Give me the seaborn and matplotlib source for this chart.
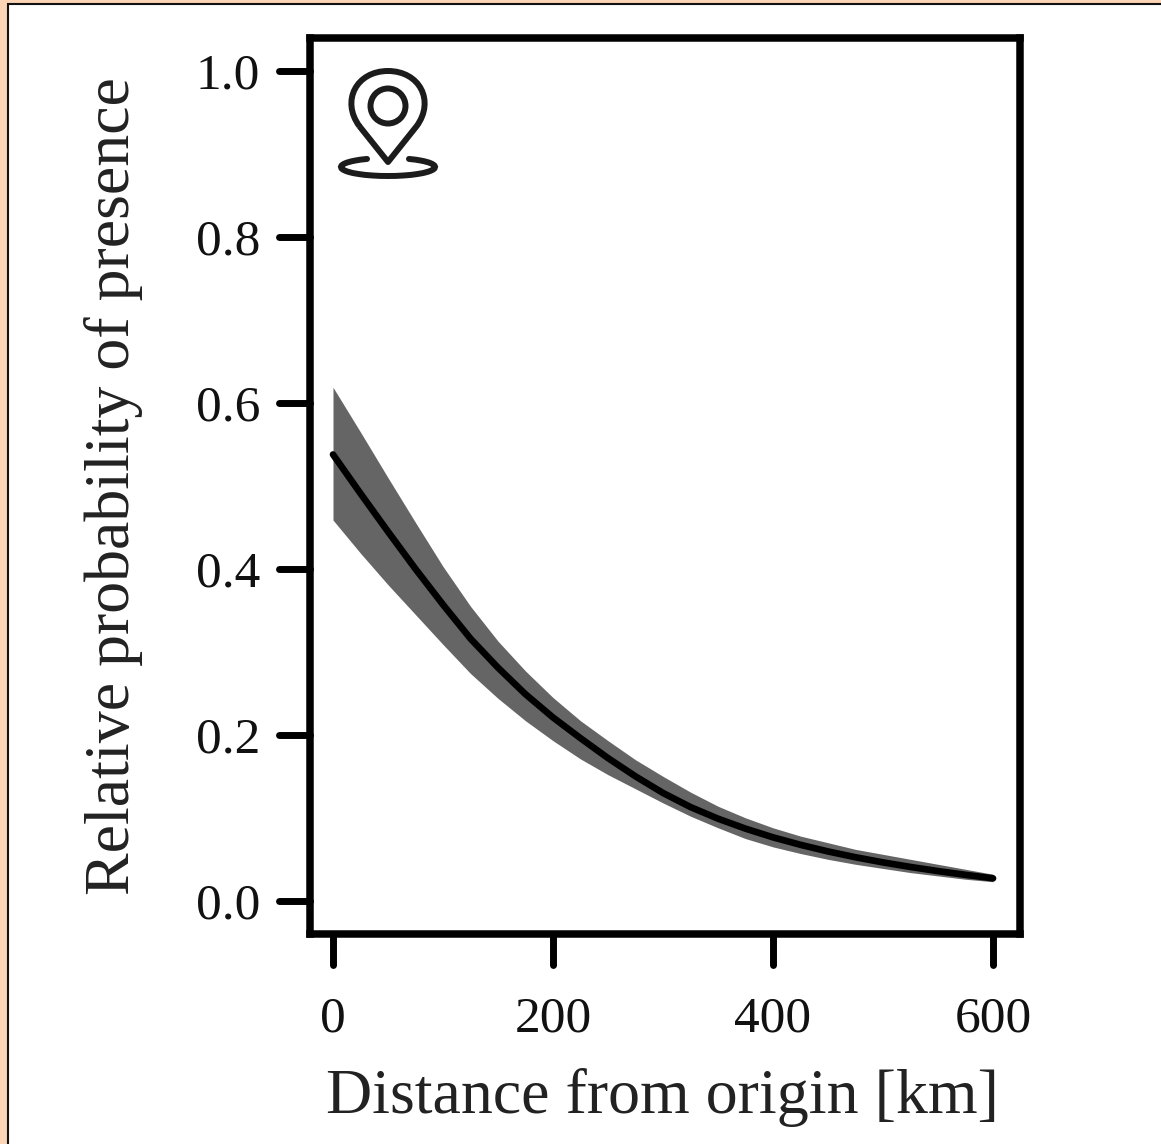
import numpy as np
import pandas as pd
import matplotlib
matplotlib.use('Agg')
import matplotlib.pyplot as plt
import seaborn as sns
from matplotlib.markers import MarkerStyle
from matplotlib.patches import Rectangle, Circle, Arc, PathPatch
from matplotlib.path import Path

# values
distance = [0, 25, 50, 75, 100, 125, 150, 175, 200, 225, 250, 275, 300,
            325, 350, 375, 400, 425, 450, 475, 500, 525, 550, 575, 600]
prob_mean = [.538, .491, .445, .400, .357, .316, .281, .249, .221, .196, .172, .150, .130,
             .113, .099, .087, .0765, .0675, .0595, .0525, .0463, .0408, .0358, .0313, .0271]
prob_upper = [.619, .565, .510, .456, .403, .355, .313, .277, .245, .217, .193, .170, .150,
              .131, .114, .100, .088, .078, .070, .062, .056, .050, .044, .038, .032]
prob_lower = [.459, .419, .381, .345, .309, .274, .244, .217, .193, .171, .152, .135, .118,
              .102, .088, .075, .065, .057, .050, .044, .039, .034, .030, .026, .023]
x_ticks = [0, 200, 400, 600]
y_ticks = [0.0, 0.2, 0.4, 0.6, 0.8, 1.0]

W, H = 1161, 1144
sns.set_theme(style='white')
plt.rcParams['font.family'] = ['Liberation Serif', 'DejaVu Serif']

df = pd.DataFrame({'distance': distance, 'mean': prob_mean})

fig = plt.figure(figsize=(W / 100, H / 100), dpi=100, facecolor='white')

# page frame: peach strip with a thin black rule, top and left only
fig.add_artist(Rectangle((0, 0), 1, 1, transform=fig.transFigure, color='#fbd5b5', zorder=-3))
fig.add_artist(Rectangle((8 / W, -0.1), 1.2, 1.1 - 4 / H, transform=fig.transFigure, facecolor='white',
                         edgecolor='#111111', linewidth=1.5, zorder=-2))

left, right, top, bottom = 310, 1020, 38, 934
ax = fig.add_axes([left / W, 1 - bottom / H, (right - left) / W, (bottom - top) / H])
ax.set_facecolor('white')

ax.fill_between(distance, prob_lower, prob_upper, color='#666565', linewidth=0)
sns.lineplot(data=df, x='distance', y='mean', color='black', linewidth=4.8,
             solid_capstyle='round', ax=ax)

ax.set_xlim(-20.9, 624.5)
ax.set_ylim(-0.04, 1.04)
ax.set_xticks(x_ticks)
ax.set_yticks(y_ticks)
ax.set_yticklabels([f'{v:.1f}' for v in y_ticks])
ax.tick_params(axis='x', bottom=True, length=22, width=5, color='black', labelsize=37, pad=23, labelcolor='#111111')
ax.tick_params(axis='y', left=True, length=22, width=5, color='black', labelsize=37, pad=14, labelcolor='#111111')
for tick in ax.xaxis.get_major_ticks() + ax.yaxis.get_major_ticks():
    tick.tick1line.set_marker(MarkerStyle(tick.tick1line.get_marker(), capstyle='round'))
for spine in ax.spines.values():
    spine.set_visible(True)
    spine.set_linewidth(5.4)
    spine.set_color('black')
    spine.set_capstyle('projecting')

ax.set_xlabel('Distance from origin [km]', fontsize=46, color='#222222', labelpad=18, x=0.4965)
ax.set_ylabel('Relative probability of presence', fontsize=46, color='#222222', labelpad=38)

# location pin icon, in pixel coordinates
icon = fig.add_axes([0, 0, 1, 1], facecolor='none')
icon.set_xlim(0, W)
icon.set_ylim(H, 0)
icon.axis('off')
ink = '#1c1c1c'
lw = 4.3
cx, cy, r = 388, 106, 35
a = np.radians(35)
head = Path([(cx - r * np.cos(a), cy + r * np.sin(a)),
             (cx - r * 1.35, cy - r * 0.15), (cx - r * 0.9, cy - r * 1.0), (cx, cy - r),
             (cx + r * 0.9, cy - r * 1.0), (cx + r * 1.35, cy - r * 0.15), (cx + r * np.cos(a), cy + r * np.sin(a)),
             (cx, 162), (cx - r * np.cos(a), cy + r * np.sin(a))],
            [Path.MOVETO, Path.CURVE4, Path.CURVE4, Path.CURVE4, Path.CURVE4, Path.CURVE4, Path.CURVE4,
             Path.LINETO, Path.LINETO])
icon.add_patch(PathPatch(head, fill=False, edgecolor=ink, linewidth=lw, joinstyle='round'))
icon.add_patch(Circle((388, 106), 17.5, fill=False, edgecolor=ink, linewidth=lw))
# Arc stretches its angles on an ellipse; -21..201 leaves the gap under the pin
icon.add_patch(Arc((388, 167), 94, 18, theta1=-21, theta2=201, color=ink, linewidth=lw, capstyle='round'))

fig.savefig('out.png', dpi=100, facecolor=fig.get_facecolor())
